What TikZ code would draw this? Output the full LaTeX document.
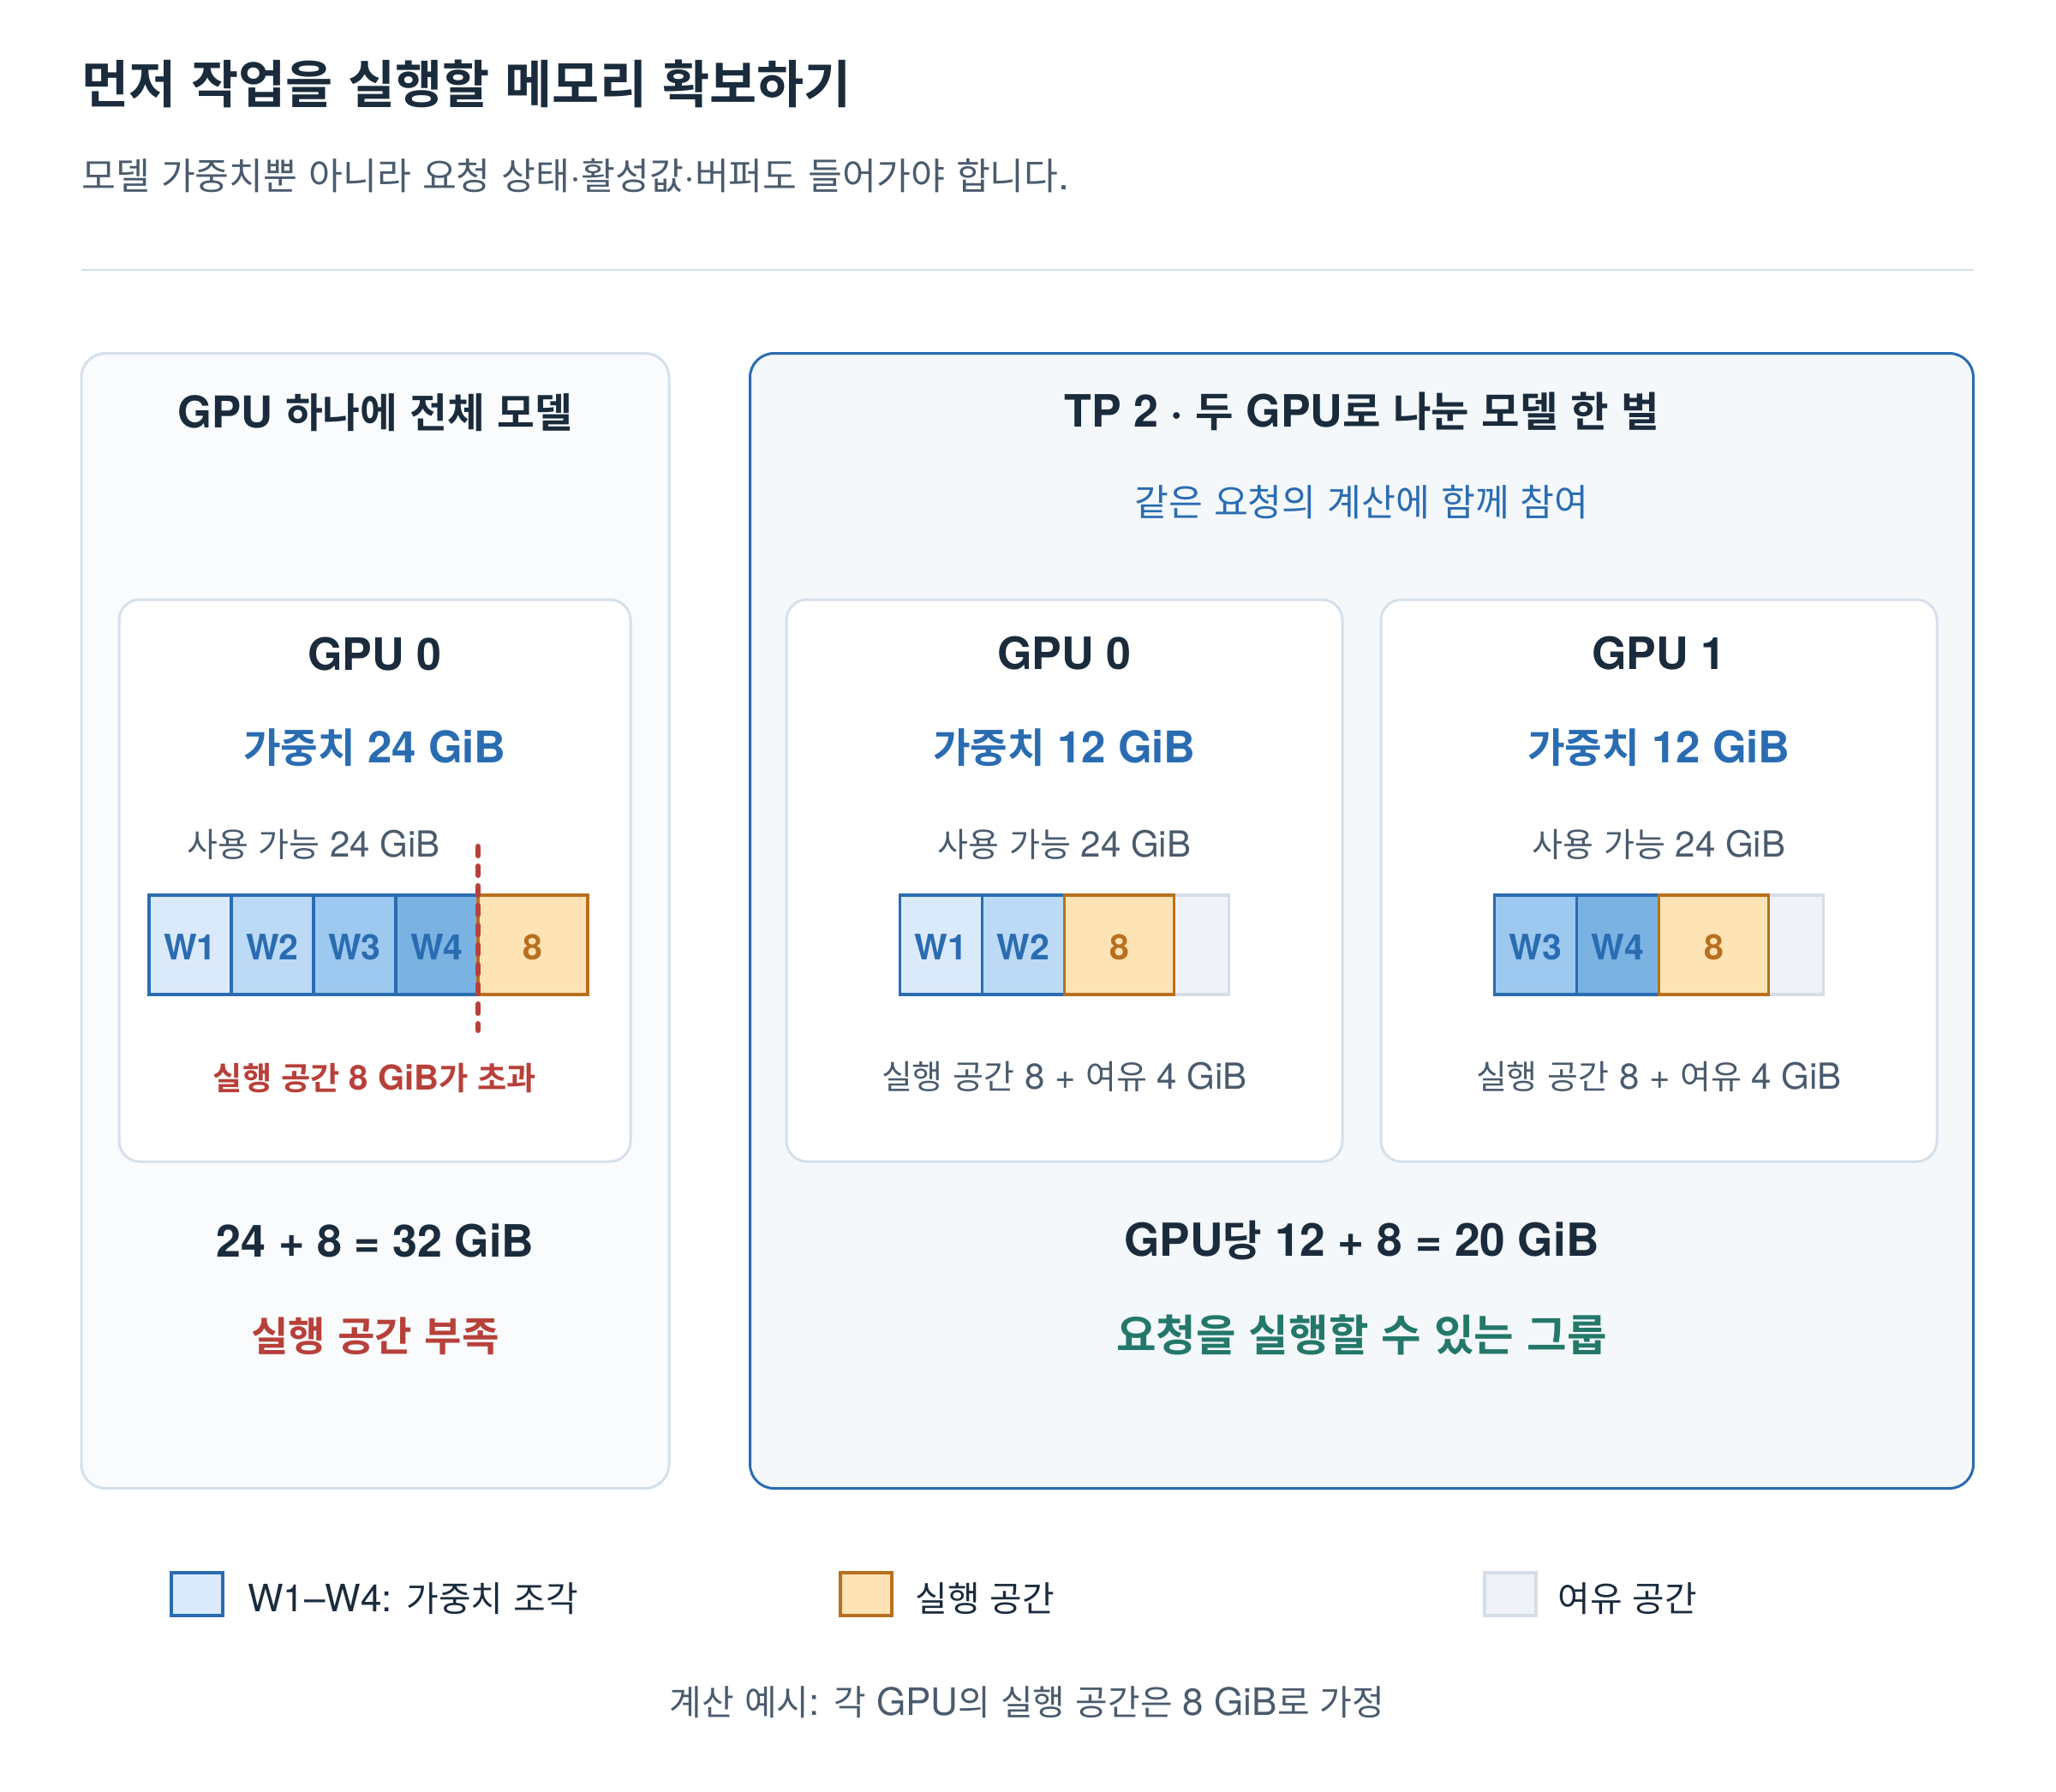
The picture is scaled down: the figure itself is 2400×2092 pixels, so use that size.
\documentclass[tikz,border=0pt]{standalone}
\usepackage{fontspec}
\setmainfont{TeX Gyre Heros}
\newfontfamily\krfam{Noto Sans CJK KR}[Scale=0.93,BoldFont={Noto Sans CJK KR Bold}]
\newcommand\latfam{\rmfamily}
\XeTeXinterchartokenstate=1
\newXeTeXintercharclass\hangulclass
\newcount\hgcnt
\hgcnt="AC00
\loop
  \XeTeXcharclass\hgcnt=\hangulclass
  \ifnum\hgcnt<"D7A3 \advance\hgcnt by 1
\repeat
\XeTeXinterchartoks 0 \hangulclass = {\krfam}
\XeTeXinterchartoks 4095 \hangulclass = {\krfam}
\XeTeXinterchartoks \hangulclass 0 = {\latfam}
\XeTeXinterchartoks \hangulclass 4095 = {\latfam}

\definecolor{ink}{HTML}{1A2B3C}
\definecolor{muted}{HTML}{4A5B6D}
\definecolor{wblue}{HTML}{2A6CB1}
\definecolor{wred}{HTML}{B8403A}
\definecolor{worange}{HTML}{B8701F}
\definecolor{ofill}{HTML}{FEE3B5}
\definecolor{wgreen}{HTML}{24786A}
\definecolor{lineclr}{HTML}{D5E0EA}
\definecolor{panelA}{HTML}{F9FBFD}
\definecolor{panelB}{HTML}{F4F8FB}
\definecolor{wfa}{HTML}{DBEAFB}
\definecolor{wfb}{HTML}{BCDAF5}
\definecolor{wfc}{HTML}{9DC8EF}
\definecolor{wfd}{HTML}{7AB3E2}
\definecolor{ffill}{HTML}{EFF3F7}
\definecolor{fborder}{HTML}{D5DEE7}

\newcommand\fsz[1]{\fontsize{#1}{#1}\selectfont}

\begin{document}
\begin{tikzpicture}[x=0.5pt,y=-0.5pt,
  txt/.style={inner sep=0pt, anchor=base},
  hd/.style={txt, font=\fsz{26pt}\bfseries, text=ink},
  avail/.style={txt, font=\fsz{21pt}, text=muted},
  note/.style={txt, font=\fsz{21pt}, text=muted},
  wlab/.style={txt, font=\fsz{20.5pt}\bfseries, text=wblue},
  olab/.style={txt, font=\fsz{20.5pt}\bfseries, text=worange},
  legtxt/.style={txt, anchor=base west, font=\fsz{22pt}, text=ink},
  panel/.style={rectangle, rounded corners=14pt, line width=1.5pt, inner sep=0pt, minimum height=662.5pt},
  gpubox/.style={rectangle, rounded corners=12pt, draw=lineclr, fill=white, line width=1.5pt, inner sep=0pt, minimum height=328pt},
  cell/.style={rectangle, inner sep=0pt, minimum height=58pt, line width=1.75pt},
  wcell/.style={cell, draw=wblue, minimum width=48pt},
  ocell/.style={cell, draw=worange, fill=ofill, minimum width=64pt},
  fcell/.style={cell, draw=fborder, fill=ffill, minimum width=32pt},
  swatch/.style={rectangle, inner sep=0pt, minimum width=30pt, minimum height=25pt, line width=2pt},
  dashline/.style={wred, line width=3pt, line cap=round, dash pattern=on 5.5pt off 6pt}
]
\useasboundingbox (0,0) rectangle (2400,2092);
\fill[white] (0,0) rectangle (2400,2092);

% header
\node[txt, anchor=base west, font=\fsz{32.2pt}\bfseries, text=ink] (title) at (95,121) {먼저 작업을 실행할 메모리 확보하기};
\node[txt, anchor=base west, font=\fsz{23.3pt}, text=muted] (subtitle) at (95,222) {모델 가중치뿐 아니라 요청 상태·활성값·버퍼도 들어가야 합니다.};
\coordinate (sepL) at (95,315);
\coordinate (sepR) at (2303.5,315);
\draw[line width=1pt, lineclr] (sepL) -- (sepR);

% panels
\node[panel, fill=panelA, draw=lineclr, minimum width=343pt] (pl) at (438,1075) {};
\node[panel, fill=panelB, draw=wblue, minimum width=714pt] (pr) at (1589.5,1075) {};
\node[gpubox, minimum width=298.5pt] (ga) at (437.5,1028) {};
\node[gpubox, minimum width=324.5pt] (gb) at (1242.5,1028) {};
\node[gpubox, minimum width=324.5pt] (gc) at (1936.5,1028) {};

% left panel
\node[hd, font=\fsz{25.6pt}\bfseries] (plt) at (438,499) {GPU 하나에 전체 모델};
\node[hd] (gat) at (437.5,782) {GPU 0};
\node[hd, text=wblue, font=\fsz{25.5pt}\bfseries] (gaw) at (437.5,890) {가중치 24 GiB};
\node[avail] (gaa) at (366,1000) {사용 가능 24 GiB};
\node[wcell, fill=wfa] (ca1) at (222,1103) {};
\node[wcell, fill=wfb] (ca2) at (318,1103) {};
\node[wcell, fill=wfc] (ca3) at (414,1103) {};
\node[wcell, fill=wfd] (ca4) at (510,1103) {};
\node[ocell] (ca5) at (622,1103) {};
\node[wlab] (la1) at (222,1120) {W1};
\node[wlab] (la2) at (318,1120) {W2};
\node[wlab] (la3) at (414,1120) {W3};
\node[wlab] (la4) at (510,1120) {W4};
\node[olab] (la5) at (622,1120) {8};
\coordinate (dtop) at (558,988);
\coordinate (dbot) at (558,1203);
\draw[dashline] (dtop) -- (dbot);
\node[txt, font=\fsz{20pt}\bfseries, text=wred] (gan) at (437.5,1272) {실행 공간 8 GiB가 초과};
\node[hd] (plsum) at (438,1467) {24 + 8 = 32 GiB};
\node[hd, text=wred, font=\fsz{25.4pt}\bfseries] (plst) at (438,1577) {실행 공간 부족};

% right panel
\node[hd] (prt) at (1589.5,498) {TP 2 · 두 GPU로 나눈 모델 한 벌};
\node[txt, font=\fsz{23.3pt}, text=wblue] (prs) at (1589.5,602) {같은 요청의 계산에 함께 참여};

\node[hd] (gbt) at (1242.5,781) {GPU 0};
\node[hd, text=wblue, font=\fsz{25.5pt}\bfseries] (gbw) at (1242.5,890) {가중치 12 GiB};
\node[avail] (gba) at (1242.5,1000) {사용 가능 24 GiB};
\node[wcell, fill=wfa] (cb1) at (1098.5,1103) {};
\node[wcell, fill=wfb] (cb2) at (1194.5,1103) {};
\node[fcell] (cb4) at (1402.5,1103) {};
\node[ocell] (cb3) at (1306.5,1103) {};
\node[wlab] (lb1) at (1098.5,1120) {W1};
\node[wlab] (lb2) at (1194.5,1120) {W2};
\node[olab] (lb3) at (1306.5,1120) {8};
\node[note] (gbn) at (1242.5,1271) {실행 공간 8 + 여유 4 GiB};

\node[hd] (gct) at (1936.5,781) {GPU 1};
\node[hd, text=wblue, font=\fsz{25.5pt}\bfseries] (gcw) at (1936.5,890) {가중치 12 GiB};
\node[avail] (gca) at (1936.5,1000) {사용 가능 24 GiB};
\node[wcell, fill=wfc] (cc1) at (1792.5,1103) {};
\node[wcell, fill=wfd] (cc2) at (1888.5,1103) {};
\node[fcell] (cc4) at (2096.5,1103) {};
\node[ocell] (cc3) at (2000.5,1103) {};
\node[wlab] (lc1) at (1792.5,1120) {W3};
\node[wlab] (lc2) at (1888.5,1120) {W4};
\node[olab] (lc3) at (2000.5,1120) {8};
\node[note] (gcn) at (1936.5,1271) {실행 공간 8 + 여유 4 GiB};

\node[hd, font=\fsz{26.6pt}\bfseries] (prsum) at (1589.5,1466) {GPU당 12 + 8 = 20 GiB};
\node[hd, text=wgreen, font=\fsz{27.2pt}\bfseries] (prst) at (1589.5,1577) {요청을 실행할 수 있는 그룹};

% legend
\node[swatch, draw=wblue, fill=wfa] (sw1) at (230,1861) {};
\node[legtxt] (lg1) at (289,1881) {W1–W4: 가중치 조각};
\node[swatch, draw=worange, fill=ofill] (sw2) at (1011,1861) {};
\node[legtxt] (lg2) at (1068,1881) {실행 공간};
\node[swatch, draw=fborder, fill=ffill] (sw3) at (1763,1861) {};
\node[legtxt] (lg3) at (1818,1881) {여유 공간};

% footer
\node[txt, font=\fsz{22pt}, text=muted] (foot) at (1199,2002) {계산 예시: 각 GPU의 실행 공간은 8 GiB로 가정};
\end{tikzpicture}
\end{document}
